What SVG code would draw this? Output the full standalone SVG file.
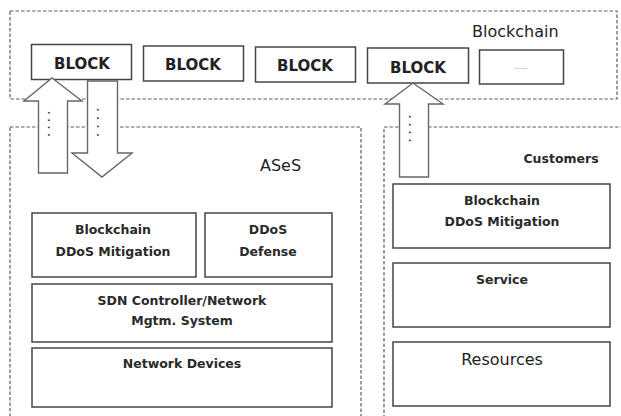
<svg xmlns="http://www.w3.org/2000/svg" width="621" height="416" viewBox="0 0 621 416">
  <style>
    .zone { fill: none; stroke: #5e5e5e; stroke-width: 1.2; stroke-dasharray: 3.5 2; }
    .box { fill: #ffffff; stroke: #454545; stroke-width: 1.5; }
    .arrow { fill: #ffffff; stroke: #666666; stroke-width: 1.4; stroke-linejoin: miter; }
    .lbl { font-family: "DejaVu Sans", "Liberation Sans", sans-serif; font-weight: bold; font-size: 12.5px; fill: #2a2a2a; text-anchor: middle; }
    .blk { font-family: "DejaVu Sans", "Liberation Sans", sans-serif; font-weight: bold; font-size: 15px; fill: #222222; text-anchor: middle; }
    .title { font-family: "DejaVu Sans", "Liberation Sans", sans-serif; font-size: 16px; fill: #222222; }
    .dots { font-family: "DejaVu Sans", "Liberation Sans", sans-serif; font-size: 9px; fill: #333333; font-weight: bold; }
  </style>

  <!-- dashed zones -->
  <g id="zones">
    <rect class="zone" x="10" y="11" width="607" height="88"/>
    <rect class="zone" x="10" y="127" width="351" height="300"/>
    <rect class="zone" x="384" y="127" width="250" height="300"/>
  </g>

  <!-- zone titles -->
  <text class="title" x="472" y="37">Blockchain</text>
  <text class="title" x="260" y="171">ASeS</text>
  <text class="lbl" x="561" y="163">Customers</text>

  <!-- chain of blocks -->
  <g id="block1"><rect class="box" x="31.5" y="44.5" width="100" height="35"/><text class="blk" x="82" y="69">BLOCK</text></g>
  <g id="block2"><rect class="box" x="143.5" y="46" width="100" height="35"/><text class="blk" x="193" y="70">BLOCK</text></g>
  <g id="block3"><rect class="box" x="255.5" y="47" width="100" height="35"/><text class="blk" x="305" y="71">BLOCK</text></g>
  <g id="block4"><rect class="box" x="367.5" y="48" width="101" height="35"/><text class="blk" x="418" y="73">BLOCK</text></g>
  <g id="block5"><rect class="box" x="479.5" y="50" width="84" height="34"/><text x="521" y="69" style="font-family:'DejaVu Sans',sans-serif;font-size:8px;fill:#8a8a8a;text-anchor:middle">.....</text></g>

  <!-- ASeS stack -->
  <g id="ases-mitigation"><rect class="box" x="32" y="213" width="164" height="64"/><text class="lbl" x="113" y="234">Blockchain</text><text class="lbl" x="113" y="256">DDoS Mitigation</text></g>
  <g id="ases-defense"><rect class="box" x="205" y="213" width="127" height="64"/><text class="lbl" x="268" y="234">DDoS</text><text class="lbl" x="268" y="256">Defense</text></g>
  <g id="ases-sdn"><rect class="box" x="32" y="284" width="300" height="58"/><text class="lbl" x="182" y="305">SDN Controller/Network</text><text class="lbl" x="182" y="325">Mgtm. System</text></g>
  <g id="ases-devices"><rect class="box" x="32" y="348" width="300" height="59"/><text class="lbl" x="182" y="368">Network Devices</text></g>

  <!-- Customer stack -->
  <g id="cust-mitigation"><rect class="box" x="393" y="184" width="217" height="64"/><text class="lbl" x="502" y="205">Blockchain</text><text class="lbl" x="502" y="226">DDoS Mitigation</text></g>
  <g id="cust-service"><rect class="box" x="393" y="263" width="217" height="64"/><text class="lbl" x="502" y="284">Service</text></g>
  <g id="cust-resources"><rect class="box" x="393" y="342" width="217" height="64"/><text class="title" x="502" y="365" style="text-anchor:middle">Resources</text></g>

  <!-- block arrows between zones -->
  <g id="connectors">
    <polygon class="arrow" points="52,78 82,101 67.5,101 67.5,173 38.5,173 38.5,101 24,101"/>
    <text class="dots" x="48" y="111" letter-spacing="4" transform="rotate(90 48 111)">....</text>
    <polygon class="arrow" points="87.5,81 117.5,81 117.5,153 132,153 102,177 72,153 87.5,153"/>
    <text class="dots" x="97" y="108" letter-spacing="5" transform="rotate(90 97 108)">....</text>
    <polygon class="arrow" points="413,83 443,104 428.5,104 428.5,177 399.5,177 399.5,104 385,104"/>
    <text class="dots" x="409" y="115" letter-spacing="4.5" transform="rotate(90 409 115)">....</text>
  </g>
</svg>
